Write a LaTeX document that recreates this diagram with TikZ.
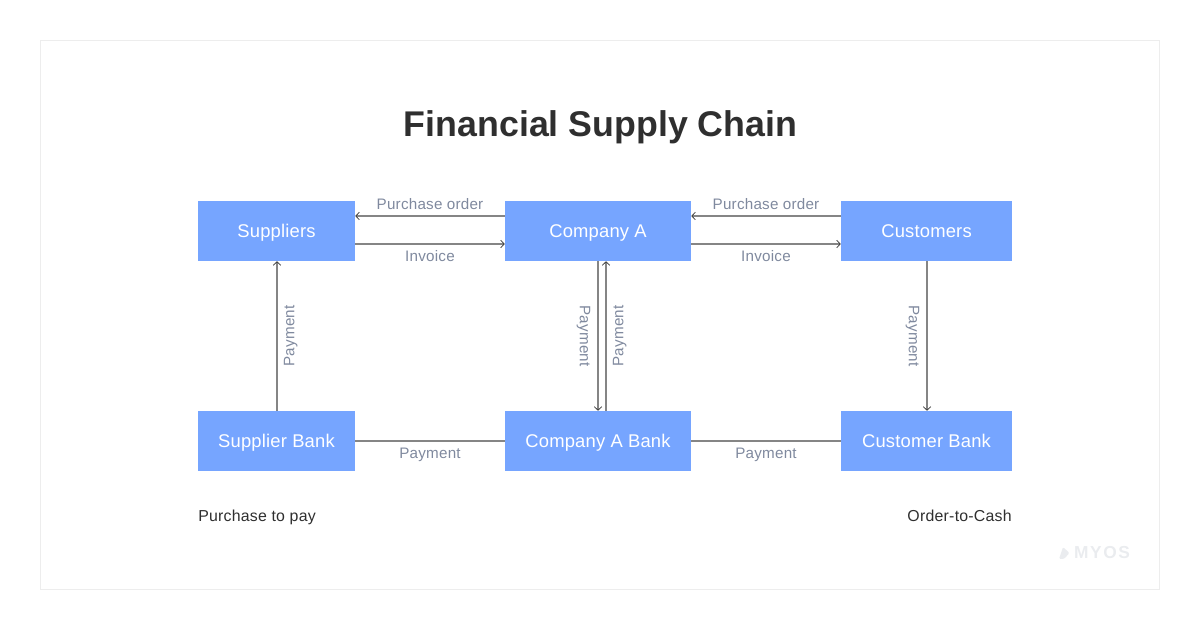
\documentclass[tikz,border=0pt]{standalone}
\usepackage{fontspec}
\setmainfont{Liberation Sans}
\usetikzlibrary{arrows.meta}
\definecolor{boxblue}{HTML}{76A5FF}
\definecolor{labelgrey}{HTML}{7F899E}
\definecolor{linegrey}{HTML}{858585}
\definecolor{framegrey}{HTML}{EDEDED}
\definecolor{titledark}{HTML}{2F2F2F}
\definecolor{logogrey}{HTML}{EAECEF}
\tikzset{
    box/.style={fill=boxblue,text=white,minimum height=45pt,inner sep=0pt,text height=9.6pt,text depth=0pt,
        font=\fontsize{13.8}{15}\selectfont\addfontfeatures{LetterSpace=1}},
    flow/.style={draw=linegrey,line width=1.1pt,-{Straight Barb[length=2.6pt,width=5.6pt,line width=.6pt,color=black!75]}},
    link/.style={draw=linegrey,line width=1.1pt},
    lbl/.style={text=labelgrey,inner sep=0pt,text height=8pt,text depth=0pt,
        font=\fontsize{11.4}{12}\selectfont\addfontfeatures{LetterSpace=1.5}},
    note/.style={text=titledark,inner sep=0pt,text height=8pt,text depth=0pt,
        font=\fontsize{11.9}{12}\selectfont\addfontfeatures{LetterSpace=1.5}}
}
\begin{document}
\begin{tikzpicture}[x=0.75pt,y=-0.75pt]
        \useasboundingbox (0,0) rectangle (1200,630);
        \draw[framegrey,line width=.75pt] (40.5,40.5) rectangle (1159.5,589.5);

        \node[text=titledark,inner sep=0pt,text height=19pt,text depth=0pt,font=\fontsize{26.8}{32}\bfseries\selectfont] (title) at (600.5,124) {Financial Supply Chain};

        \node[box,minimum width=117.75pt] (suppliers)  at (276.5,231) {Suppliers};
        \node[box,minimum width=139.5pt]  (companyA)   at (598,231)   {Company A};
        \node[box,minimum width=128.25pt] (customers)  at (926.5,231) {Customers};
        \node[box,minimum width=117.75pt] (supplierB)  at (276.5,441) {Supplier Bank};
        \node[box,minimum width=139.5pt]  (companyB)   at (598,441)   {Company A Bank};
        \node[box,minimum width=128.25pt] (customerB)  at (926.5,441) {Customer Bank};

        \path ([yshift=11.25pt]companyA.west) edge[flow] node[lbl,yshift=9pt] (po1) {Purchase order} ([yshift=11.25pt]suppliers.east);
        \path ([yshift=-9.75pt]suppliers.east) edge[flow] node[lbl,yshift=-9pt] (inv1) {Invoice} ([yshift=-9.75pt]companyA.west);
        \path ([yshift=11.25pt]customers.west) edge[flow] node[lbl,yshift=9pt] (po2) {Purchase order} ([yshift=11.25pt]companyA.east);
        \path ([yshift=-9.75pt]companyA.east) edge[flow] node[lbl,yshift=-9pt] (inv2) {Invoice} ([yshift=-9.75pt]customers.west);

        \path ([xshift=.375pt]supplierB.north) edge[flow] node[lbl,rotate=90,yshift=-9pt] (pay1) {Payment} ([xshift=.375pt]suppliers.south);
        \path ([xshift=.375pt]customers.south) edge[flow] node[lbl,rotate=-90,yshift=-9.6pt] (pay4) {Payment} ([xshift=.375pt]customerB.north);
        \path (companyA.south) edge[flow] node[lbl,rotate=-90,yshift=-9.6pt] (pay2) {Payment} (companyB.north);
        \path ([xshift=6pt]companyB.north) edge[flow] node[lbl,rotate=90,yshift=-9pt] (pay3) {Payment} ([xshift=6pt]companyA.south);

        \path (supplierB) edge[link] node[lbl,yshift=-9pt] (pay5) {Payment} (companyB);
        \path (companyB) edge[link] node[lbl,yshift=-9pt] (pay6) {Payment} (customerB);

        \node[note,anchor=west] (p2p) at (198,516) {Purchase to pay};
        \node[note,anchor=east] (o2c) at (1012,516) {Order-to-Cash};

        \fill[logogrey,rounded corners=1pt] (1059,559) -- (1063,547) -- (1069.5,553) -- (1064,559) -- cycle;
        \node[text=logogrey,inner sep=0pt,text height=9pt,text depth=0pt,font=\fontsize{13}{15}\bfseries\addfontfeatures{LetterSpace=9}] (logo) at (1102,553) {MYOS};
    \end{tikzpicture}
\end{document}
